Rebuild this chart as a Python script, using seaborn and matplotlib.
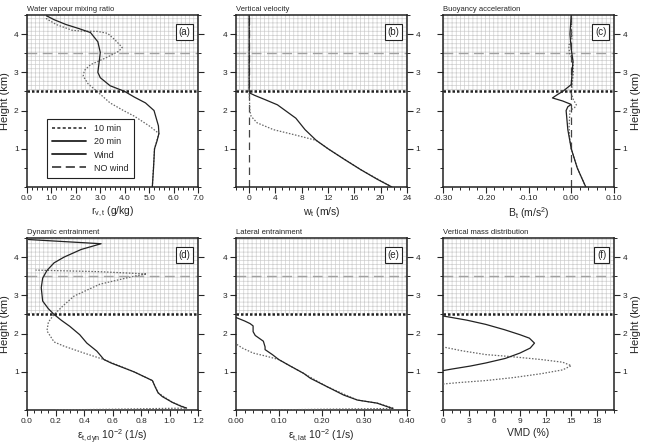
import numpy as np
import seaborn as sns
import matplotlib.pyplot as plt
from matplotlib.lines import Line2D
from matplotlib.ticker import MultipleLocator, FormatStrFormatter

# ---- dados (altura em km) ----
# (a) razao de mistura de vapor
a_20_x = [5.13, 5.18, 5.22, 5.32, 5.40, 5.38, 5.20, 4.85, 4.40, 4.00, 3.40, 3.00, 2.90, 2.95, 3.00, 2.90, 2.60, 2.10, 1.60, 1.10, 0.80]
a_20_y = [0.0, 0.5, 1.0, 1.2, 1.4, 1.6, 2.0, 2.2, 2.35, 2.5, 2.65, 2.86, 3.0, 3.25, 3.52, 3.8, 4.04, 4.15, 4.25, 4.38, 4.48]
a_10_x = [5.13, 5.22, 5.40, 5.00, 4.40, 3.95, 3.40, 2.87, 2.50, 2.30, 2.35, 2.60, 3.30, 3.75, 3.90, 3.60, 3.30, 2.90, 2.20, 1.85, 1.20, 0.80, 0.80]
a_10_y = [0.0, 1.0, 1.4, 1.6, 1.85, 2.0, 2.2, 2.5, 2.7, 2.9, 3.05, 3.2, 3.4, 3.55, 3.65, 3.85, 4.02, 4.07, 4.08, 4.1, 4.25, 4.4, 4.48]

# (b) velocidade vertical
b_20_x = [21.7, 19.5, 17.0, 14.5, 12.0, 10.2, 8.5, 7.1, 5.5, 4.3, 2.5, 0.8, 0.2, 0.0, 0.0]
b_20_y = [0.0, 0.2, 0.45, 0.72, 1.0, 1.22, 1.5, 1.8, 2.0, 2.15, 2.28, 2.4, 2.45, 2.5, 4.5]
b_10_x = [21.7, 17.0, 12.0, 10.2, 6.8, 3.7, 1.2, 0.3, 0.1, 0.05, 0.0, 0.0, 0.05, 0.0]
b_10_y = [0.0, 0.45, 1.0, 1.22, 1.37, 1.5, 1.68, 1.85, 2.0, 2.3, 2.5, 3.5, 4.0, 4.5]

# (c) aceleracao de empuxo
c_20_x = [0.034, 0.014, 0.0, -0.008, -0.012, -0.008, 0.0, -0.02, -0.044, -0.032, -0.02, 0.0, 0.002, 0.004, 0.0, -0.003, 0.0]
c_20_y = [0.0, 0.5, 1.0, 1.5, 2.0, 2.1, 2.16, 2.25, 2.33, 2.42, 2.5, 2.68, 3.0, 3.3, 3.6, 4.0, 4.5]
c_10_x = [0.034, 0.014, 0.0, -0.004, -0.005, -0.003, 0.008, 0.012, 0.005, 0.0, 0.003, 0.005, 0.004, -0.004, -0.006, 0.002, 0.0, 0.0]
c_10_y = [0.0, 0.5, 1.0, 1.3, 1.6, 2.0, 2.08, 2.15, 2.28, 2.45, 2.8, 3.0, 3.3, 3.5, 3.7, 3.9, 4.2, 4.5]

# (d) entranhamento dinamico
d_20_x = [1.12, 1.08, 1.02, 0.95, 0.92, 0.90, 0.88, 0.75, 0.59, 0.54, 0.49, 0.42, 0.37, 0.30, 0.24, 0.19, 0.15, 0.11, 0.10, 0.11, 0.14, 0.19, 0.26, 0.38, 0.52, 0.01]
d_20_y = [0.05, 0.1, 0.2, 0.35, 0.45, 0.6, 0.77, 1.0, 1.23, 1.32, 1.54, 1.75, 1.97, 2.19, 2.35, 2.5, 2.65, 2.85, 3.2, 3.45, 3.65, 3.85, 4.0, 4.2, 4.35, 4.46]
d_10_x = [0.2, 0.6, 1.12, 1.02, 0.92, 0.88, 0.75, 0.54, 0.40, 0.26, 0.19, 0.14, 0.15, 0.19, 0.26, 0.33, 0.51, 0.75, 0.84, 0.50, 0.06]
d_10_y = [0.0, 0.02, 0.05, 0.2, 0.45, 0.77, 1.0, 1.32, 1.49, 1.67, 1.78, 2.07, 2.3, 2.5, 2.75, 2.98, 3.29, 3.5, 3.56, 3.62, 3.66]

# (e) entranhamento lateral
e_20_x = [0.366, 0.33, 0.284, 0.252, 0.213, 0.174, 0.158, 0.127, 0.10, 0.085, 0.068, 0.068, 0.064, 0.045, 0.040, 0.040, 0.033, 0.02, 0.0]
e_20_y = [0.04, 0.18, 0.26, 0.39, 0.61, 0.83, 0.96, 1.15, 1.32, 1.45, 1.58, 1.65, 1.80, 1.95, 2.05, 2.2, 2.26, 2.33, 2.42]
e_10_x = [0.08, 0.2, 0.37, 0.33, 0.284, 0.213, 0.158, 0.127, 0.10, 0.07, 0.04, 0.015, 0.0]
e_10_y = [0.0, 0.02, 0.04, 0.18, 0.26, 0.61, 0.96, 1.15, 1.32, 1.41, 1.49, 1.62, 1.73]

# (f) distribuicao vertical de massa
f_20_x = [0.0, 1.0, 3.2, 5.0, 7.3, 9.0, 10.2, 10.7, 10.1, 9.0, 7.2, 5.0, 2.8, 0.0]
f_20_y = [1.03, 1.07, 1.15, 1.23, 1.35, 1.49, 1.62, 1.75, 1.88, 1.97, 2.1, 2.24, 2.35, 2.46]
f_10_x = [0.0, 2.0, 5.0, 8.3, 11.5, 14.0, 15.0, 14.0, 11.5, 7.8, 5.0, 2.2, 0.0]
f_10_y = [0.68, 0.72, 0.77, 0.85, 0.95, 1.05, 1.16, 1.25, 1.32, 1.40, 1.45, 1.55, 1.65]

panels = [
    dict(tag="(a)", title="Water vapour mixing ratio", xlabel=r"r$_{\mathrm{v,t}}$ (g/kg)",
         xlim=(0, 7), major=1.0, minor=0.2, fmt="%.1f", s20=(a_20_x, a_20_y), s10=(a_10_x, a_10_y)),
    dict(tag="(b)", title="Vertical velocity", xlabel=r"w$_{\mathrm{t}}$ (m/s)",
         xlim=(-2, 24), major=4, minor=1, fmt="%d", s20=(b_20_x, b_20_y), s10=(b_10_x, b_10_y)),
    dict(tag="(c)", title="Buoyancy acceleration", xlabel=r"B$_{\mathrm{t}}$ (m/s$^{2}$)",
         xlim=(-0.3, 0.1), major=0.1, minor=0.02, fmt="%.2f", s20=(c_20_x, c_20_y), s10=(c_10_x, c_10_y)),
    dict(tag="(d)", title="Dynamic entrainment", xlabel=r"ε$_{\mathrm{t,dyn}}$ 10$^{-2}$ (1/s)",
         xlim=(0, 1.2), major=0.2, minor=0.05, fmt="%.1f", s20=(d_20_x, d_20_y), s10=(d_10_x, d_10_y)),
    dict(tag="(e)", title="Lateral entrainment", xlabel=r"ε$_{\mathrm{t,lat}}$ 10$^{-2}$ (1/s)",
         xlim=(0, 0.4), major=0.1, minor=0.02, fmt="%.2f", s20=(e_20_x, e_20_y), s10=(e_10_x, e_10_y)),
    dict(tag="(f)", title="Vertical mass distribution", xlabel="VMD (%)",
         xlim=(0, 20), major=3, minor=1, fmt="%d", s20=(f_20_x, f_20_y), s10=(f_10_x, f_10_y)),
]

sns.set_style("ticks")
plt.rcParams['font.family'] = ['Liberation Sans', 'DejaVu Sans']
plt.rcParams['mathtext.fontset'] = 'custom'
plt.rcParams['mathtext.rm'] = 'Liberation Sans'
plt.rcParams['mathtext.it'] = 'Liberation Sans:italic'
plt.rcParams['hatch.linewidth'] = 0.5

fig = plt.figure(figsize=(6.46, 4.46), dpi=100)

lefts = [27 / 646, 236 / 646, 443 / 646]
bottoms = [1 - 187 / 446, 1 - 410 / 446]
w, h = 171 / 646, 172 / 446

dot_style = (0, (1.2, 1.3))
for i, p in enumerate(panels):
    row, col = divmod(i, 3)
    ax = fig.add_axes([lefts[col], bottoms[row], w, h])
    ax.set_xlim(*p["xlim"])
    ax.set_ylim(0, 4.5)

    # area hachurada acima de 2.5 km
    ax.axhspan(2.5, 4.5, facecolor="none", edgecolor="#cfcfcf", hatch="++++", lw=0, zorder=0)
    ax.axhline(3.5, color="#a0a0a0", lw=1.0, dashes=(7, 4), zorder=1)
    if p["tag"] in ("(b)", "(c)"):
        ax.axvline(0, color="#444444", lw=0.9, dashes=(6, 4), zorder=1)

    sns.lineplot(x=p["s10"][0], y=p["s10"][1], sort=False, estimator=None, ax=ax,
                 color="#666666", lw=0.9, linestyle=dot_style, zorder=3)
    sns.lineplot(x=p["s20"][0], y=p["s20"][1], sort=False, estimator=None, ax=ax,
                 color="#222222", lw=0.9, zorder=4)
    ax.axhline(2.5, color="#222222", lw=1.8, linestyle=(0, (1, 0.8)), zorder=5)

    ax.xaxis.set_major_locator(MultipleLocator(p["major"]))
    ax.xaxis.set_minor_locator(MultipleLocator(p["minor"]))
    ax.xaxis.set_major_formatter(FormatStrFormatter(p["fmt"]))
    ax.set_yticks([1, 2, 3, 4])
    ax.yaxis.set_minor_locator(MultipleLocator(0.5))
    ax.tick_params(which="major", direction="out", length=4, width=0.8, labelsize=6,
                   left=True, right=True, pad=2)
    ax.tick_params(which="minor", direction="out", length=2.5, width=0.7, left=True, right=True)
    ax.tick_params(axis="x", which="both", top=False)
    if col == 0:
        ax.tick_params(axis="y", labelleft=True, labelright=False)
        ax.set_ylabel("Height (km)", fontsize=8, labelpad=3)
    elif col == 1:
        ax.tick_params(axis="y", labelleft=True, labelright=True)
        ax.set_ylabel("")
    else:
        ax.tick_params(axis="y", labelleft=False, labelright=True)
        ax.yaxis.set_label_position("right")
        ax.set_ylabel("Height (km)", fontsize=8, labelpad=3)

    for s in ax.spines.values():
        s.set_visible(True)
        s.set_linewidth(1.1)
        s.set_color("#222222")

    ax.set_xlabel(p["xlabel"], fontsize=7.5, labelpad=2)
    ax.set_title(p["title"], loc="left", fontsize=5.5, pad=3)
    ax.text(0.955, 0.93, p["tag"], transform=ax.transAxes, ha="right", va="top", fontsize=7,
            zorder=6, bbox=dict(boxstyle="square,pad=0.3", fc="white", ec="#222222", lw=0.8))

    if i == 0:
        handles = [
            Line2D([], [], color="#222222", lw=1.1, linestyle=(0, (2, 1.5))),
            Line2D([], [], color="#222222", lw=1.3),
            Line2D([], [], color="#222222", lw=1.3),
            Line2D([], [], color="#222222", lw=1.1, dashes=(6, 3)),
        ]
        leg = ax.legend(handles, ["10 min", "20 min", "Wind", "NO wind"], loc="lower left",
                        bbox_to_anchor=(0.115, 0.055), borderaxespad=0, fontsize=6.5,
                        handlelength=3.8, labelspacing=0.45, borderpad=0.55, handletextpad=0.9,
                        fancybox=False, framealpha=1, edgecolor="#222222")
        leg.get_frame().set_linewidth(0.8)
        leg.set_zorder(7)

fig.savefig("out.png", dpi=100)
